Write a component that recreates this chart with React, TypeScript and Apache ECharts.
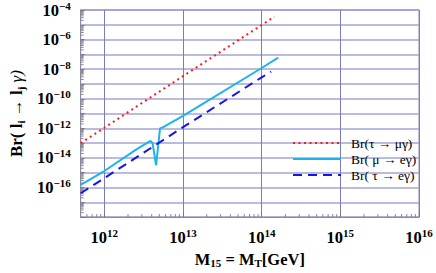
import React, { useEffect, useRef } from "react";
import * as echarts from "echarts";

const X_MIN = 5e11;
const X_MAX = 1e16;
const Y_MIN = 1e-18;
const Y_MAX = 1e-4;

const legendNames = ["Br(τ → μγ)", "Br( μ → eγ)", "Br( τ → eγ)"];

const tauMuX = [5e11, 1e12, 1e13, 1e14, 1.45e14];
const tauMuY = [1e-13, 1.1e-12, 3.4e-9, 9.6e-6, 3.6e-5];

const muEX = [5e11, 1e12, 2.5e12, 3.85e12, 4.1e12, 4.55e12, 5.1e12, 5.6e12, 1e13, 1e14, 1.62e14];
const muEY = [1.5e-16, 1.3e-15, 3.5e-14, 1.4e-13, 1e-13, 3.2e-15, 1e-12, 1.2e-12, 7e-12, 1.2e-8, 6e-8];

const tauEX = [5e11, 1e12, 1e13, 1e14, 1.32e14];
const tauEY = [4.1e-17, 4.3e-16, 1.2e-12, 2.8e-9, 6.8e-9];

const xDecades = [11, 12, 13, 14, 15];
const yDecades = [-18, -17, -16, -15, -14, -13, -12, -11, -10, -9, -8, -7, -6, -5];
const minorMultipliers = [2, 3, 4, 5, 6, 7, 8, 9];

const SERIF = "Liberation Serif";

const xMinor: number[] = [];
xDecades.forEach((d) =>
  minorMultipliers.forEach((m) => {
    const v = m * Math.pow(10, d);
    if (v > X_MIN && v < X_MAX) xMinor.push(v);
  })
);
const yMinor: number[] = [];
yDecades.forEach((d) =>
  minorMultipliers.forEach((m) => {
    const v = m * Math.pow(10, d);
    if (v > Y_MIN && v < Y_MAX) yMinor.push(v);
  })
);

const pair = (xs: number[], ys: number[]) => xs.map((x, i) => [x, ys[i]]);

const richLabel = {
  b: { fontFamily: SERIF, fontWeight: "bold", fontSize: 16.5, lineHeight: 20, color: "#000" },
  s: { fontFamily: SERIF, fontWeight: "bold", fontSize: 11, verticalAlign: "top", color: "#000" },
};

export default function App() {
  const ref = useRef<HTMLDivElement>(null);
  useEffect(() => {
    document.body.style.margin = "0";
    if (!ref.current) return;
    const chart = echarts.init(ref.current, undefined, { renderer: "svg" });
    const option: any = {
      animation: false,
      backgroundColor: "#fff",
      grid: {
        left: 70,
        top: 9,
        right: 17,
        bottom: 44.5,
        show: true,
        borderColor: "#8a8aa8",
        borderWidth: 1,
      },
      legend: {
        data: legendNames,
        orient: "vertical",
        left: 287,
        top: 131,
        itemWidth: 48,
        itemHeight: 12,
        itemGap: 2,
        itemStyle: { color: "rgba(0,0,0,0)", borderColor: "rgba(0,0,0,0)", borderWidth: 0, opacity: 0 },
        textStyle: { fontFamily: SERIF, fontSize: 13.5, lineHeight: 13, color: "#000", padding: [0, 0, 0, 5] },
      },
      xAxis: {
        type: "log",
        logBase: 10,
        min: X_MIN,
        max: X_MAX,
        splitNumber: 5,
        name: "{b|M}{sb|15}{b| = M}{sb|T}{b|[GeV]}",
        nameLocation: "middle",
        nameGap: 28,
        nameTextStyle: {
          rich: {
            b: { fontFamily: SERIF, fontWeight: "bold", fontSize: 16.5, lineHeight: 18, color: "#000" },
            sb: { fontFamily: SERIF, fontWeight: "bold", fontSize: 11, verticalAlign: "bottom", color: "#000" },
          },
        },
        axisLine: { show: true, lineStyle: { color: "#8a8aa8" } },
        axisTick: { show: true, inside: true, length: 5, lineStyle: { color: "#777" } },
        axisLabel: {
          margin: 10,
          showMinLabel: false,
          formatter: (v: number) => {
            const e = Math.round(Math.log10(v));
            if (Math.abs(Math.log10(v) - e) > 0.01 || e < 12) return "";
            return `{b|10}{s|${e}}`;
          },
          rich: richLabel,
        },
        splitLine: { show: true, lineStyle: { color: "#7c7cbc", width: 1 } },
      },
      yAxis: {
        type: "log",
        logBase: 10,
        min: Y_MIN,
        max: Y_MAX,
        interval: 1,
        name: "{b|Br( l}{sb|i}{b| → l}{sb|j}{g| γ)}",
        nameLocation: "middle",
        nameRotate: 90,
        nameGap: 50,
        nameTextStyle: {
          rich: {
            b: { fontFamily: SERIF, fontWeight: "bold", fontSize: 17, lineHeight: 19, color: "#000" },
            sb: { fontFamily: SERIF, fontWeight: "bold", fontSize: 11, verticalAlign: "bottom", color: "#000" },
            g: { fontFamily: SERIF, fontStyle: "italic", fontSize: 17, lineHeight: 19, color: "#000" },
          },
        },
        axisLine: { show: true, lineStyle: { color: "#8a8aa8" } },
        axisTick: { show: true, inside: true, length: 4, lineStyle: { color: "#777" } },
        axisLabel: {
          margin: 10,
          formatter: (v: number) => {
            const e = Math.round(Math.log10(v));
            if (e % 2 !== 0 || e <= -18) return "";
            return `{b|10}{s|−${-e}}`;
          },
          rich: richLabel,
        },
        splitLine: { show: true, lineStyle: { color: "#a4a4d6", width: 1.6 } },
      },
      series: [
        {
          name: legendNames[0],
          type: "line",
          data: pair(tauMuX, tauMuY),
          symbol: "none",
          lineStyle: { color: "#ff1a1a", width: 2, type: [2, 3.5] },
          itemStyle: { color: "#ff1a1a" },
          z: 5,
        },
        {
          name: legendNames[1],
          type: "line",
          data: pair(muEX, muEY),
          symbol: "none",
          lineStyle: { color: "#1cb4ea", width: 2 },
          itemStyle: { color: "#1cb4ea" },
          z: 5,
        },
        {
          name: legendNames[2],
          type: "line",
          data: pair(tauEX, tauEY),
          symbol: "none",
          lineStyle: { color: "#1414ee", width: 2, type: [9, 6] },
          itemStyle: { color: "#1414ee" },
          z: 5,
        },
        {
          type: "custom",
          silent: true,
          clip: false,
          data: xMinor.map((v) => [v, Y_MIN]),
          renderItem: (_p: any, api: any) => {
            const pt = api.coord([api.value(0), Y_MIN]);
            return {
              type: "line",
              shape: { x1: pt[0], y1: pt[1], x2: pt[0], y2: pt[1] - 3 },
              style: { stroke: "#888", lineWidth: 1 },
            };
          },
          z: 3,
        },
        {
          type: "custom",
          silent: true,
          clip: false,
          data: yMinor.map((v) => [X_MIN, v]),
          renderItem: (_p: any, api: any) => {
            const pt = api.coord([X_MIN, api.value(1)]);
            return {
              type: "line",
              shape: { x1: pt[0], y1: pt[1], x2: pt[0] + 3, y2: pt[1] },
              style: { stroke: "#888", lineWidth: 1 },
            };
          },
          z: 3,
        },
      ],
    };
    chart.setOption(option);
    return () => chart.dispose();
  }, []);
  return <div ref={ref} style={{ width: 436, height: 273 }} />;
}
